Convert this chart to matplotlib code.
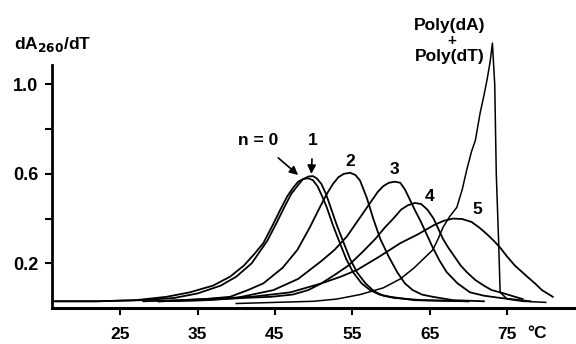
import matplotlib.pyplot as plt

# Melting curves (dA260/dT vs temperature)
n0_T = [16.2, 22, 27, 31, 34, 37, 39.2, 41, 42.3, 43.5, 44.7, 45.7, 46.6, 47.4, 48.0, 48.7, 49.3, 49.9, 50.5, 51.1, 51.7, 52.5, 53.4, 54.2, 55.1, 56.2, 57.3, 58.5, 59.9, 63, 70]
n0_y = [0.03, 0.03, 0.035, 0.05, 0.07, 0.10, 0.14, 0.19, 0.24, 0.29, 0.37, 0.44, 0.50, 0.54, 0.565, 0.578, 0.58, 0.572, 0.545, 0.50, 0.45, 0.37, 0.29, 0.22, 0.16, 0.11, 0.08, 0.06, 0.05, 0.035, 0.03]

n1_T = [16.2, 22, 28, 32, 35, 38, 40, 42, 43, 44, 45.2, 46.2, 47.1, 48, 48.6, 49.3, 49.9, 50.4, 51.0, 51.6, 52.2, 53.0, 53.9, 54.7, 55.6, 56.7, 57.8, 59, 60.4, 64, 70]
n1_y = [0.03, 0.03, 0.035, 0.045, 0.065, 0.10, 0.14, 0.20, 0.25, 0.30, 0.38, 0.45, 0.51, 0.55, 0.575, 0.588, 0.59, 0.58, 0.555, 0.51, 0.45, 0.37, 0.29, 0.22, 0.16, 0.11, 0.075, 0.055, 0.045, 0.035, 0.03]

n2_T = [28, 33, 36, 39.2, 41.5, 43.5, 46, 47.9, 49.5, 50.8, 51.7, 52.5, 53.2, 53.9, 54.7, 55.4, 56.0, 56.9, 57.7, 58.6, 59.7, 60.8, 61.8, 62.8, 64, 65.4, 68, 72]
n2_y = [0.03, 0.035, 0.04, 0.05, 0.08, 0.11, 0.18, 0.26, 0.36, 0.45, 0.51, 0.555, 0.585, 0.60, 0.605, 0.595, 0.57, 0.49, 0.40, 0.31, 0.23, 0.16, 0.11, 0.08, 0.06, 0.05, 0.035, 0.03]

n3_T = [30, 36, 40, 44.8, 48, 51, 52.7, 54.3, 55.5, 56.5, 57.5, 58.3, 59.0, 59.7, 60.5, 61.2, 61.8, 62.5, 63.2, 63.8, 64.6, 65.4, 66.3, 67.2, 68.6, 70.2, 72, 74.1, 78]
n3_y = [0.03, 0.035, 0.045, 0.08, 0.13, 0.21, 0.26, 0.32, 0.38, 0.43, 0.48, 0.52, 0.545, 0.56, 0.565, 0.56, 0.53, 0.48, 0.43, 0.39, 0.33, 0.27, 0.21, 0.16, 0.11, 0.07, 0.055, 0.045, 0.03]

n4_T = [30, 36, 41, 44.5, 47.3, 49.3, 51, 52.8, 54.5, 56.3, 58, 59.2, 60.3, 61.3, 62.2, 63.1, 63.9, 64.7, 65.5, 66.1, 66.7, 67.4, 68.2, 69.0, 69.8, 70.9, 72, 73, 74.1, 77]
n4_y = [0.03, 0.035, 0.045, 0.05, 0.06, 0.08, 0.11, 0.15, 0.19, 0.25, 0.31, 0.36, 0.40, 0.44, 0.46, 0.47, 0.465, 0.44, 0.40, 0.355, 0.31, 0.27, 0.23, 0.19, 0.16, 0.125, 0.10, 0.08, 0.07, 0.04]

n5_T = [30, 36, 42, 47, 51, 53.5, 55.6, 58.5, 61.2, 63.5, 65.5, 66.8, 68, 69.2, 70.4, 71.4, 72.4, 73.3, 74.1, 75, 76, 76.8, 77.6, 78.6, 79.5, 80.9]
n5_y = [0.03, 0.04, 0.05, 0.07, 0.11, 0.14, 0.17, 0.23, 0.29, 0.33, 0.37, 0.39, 0.40, 0.398, 0.385, 0.36, 0.33, 0.30, 0.27, 0.23, 0.19, 0.165, 0.14, 0.11, 0.08, 0.05]

poly_T = [40, 45, 50, 53, 56, 59, 61.2, 63, 64.5, 65.4, 66.1, 66.7, 67.6, 68.5, 69.2, 69.8, 70.4, 70.9, 71.5, 72.0, 72.4, 72.8, 73.1, 73.4, 73.6, 73.9, 74.1, 75, 77, 80]
poly_y = [0.02, 0.025, 0.03, 0.04, 0.06, 0.09, 0.13, 0.18, 0.23, 0.26, 0.31, 0.36, 0.41, 0.45, 0.53, 0.62, 0.70, 0.75, 0.87, 0.95, 1.02, 1.10, 1.185, 1.0, 0.6, 0.3, 0.07, 0.04, 0.03, 0.025]

x_ticks = [25, 35, 45, 55, 65, 75]
y_ticks = [0.2, 0.4, 0.6, 0.8, 1.0]
y_labels = ["0.2", "", "0.6", "", "1.0"]

plt.rcParams["font.family"] = "Liberation Sans"
plt.rcParams["font.weight"] = "bold"

fig = plt.figure(figsize=(5.76, 3.44), dpi=100)
ax = fig.add_axes([0.0903, 0.1047, 0.9097, 0.7063])

for T, y in [(n0_T, n0_y), (n1_T, n1_y), (n2_T, n2_y), (n3_T, n3_y), (n4_T, n4_y), (n5_T, n5_y)]:
    ax.plot(T, y, color="black", lw=1.3)
ax.plot(poly_T, poly_y, color="black", lw=1.1, clip_on=False)

ax.set_xlim(16.2, 83.9)
ax.set_ylim(0, 1.087)

# axes look
for side in ["top", "right"]:
    ax.spines[side].set_visible(False)
ax.spines["left"].set_linewidth(2)
ax.spines["bottom"].set_linewidth(2.2)

ax.set_xticks(x_ticks)
ax.set_xticklabels([str(t) for t in x_ticks], fontsize=12.5, fontweight="bold")
ax.set_yticks(y_ticks)
ax.set_yticklabels(y_labels, fontsize=13, fontweight="bold")
ax.tick_params(axis="x", length=5, width=1.5, pad=9)
ax.tick_params(axis="y", length=5, width=1.5, pad=5)

# annotations
fig.text(537 / 576, 1 - 333 / 344, "°C", fontsize=12.5, fontweight="bold", ha="center", va="center")
fig.text(0.092, 0.87, r"dA$_{\mathbf{260}}$/dT", fontsize=12.5, fontweight="bold", ha="center", va="center")

ax.annotate("n = 0", xy=(48.0, 0.595), xytext=(42.8, 0.75), fontsize=12.5, fontweight="bold",
            ha="center", va="center",
            arrowprops=dict(arrowstyle="-|>", color="black", lw=1.2, shrinkA=8, shrinkB=0))
ax.annotate("1", xy=(49.7, 0.6), xytext=(49.9, 0.75), fontsize=12.5, fontweight="bold",
            ha="center", va="center",
            arrowprops=dict(arrowstyle="-|>", color="black", lw=1.2, shrinkA=6, shrinkB=0))
ax.text(54.7, 0.655, "2", fontsize=12.5, fontweight="bold", ha="center", va="center")
ax.text(60.5, 0.62, "3", fontsize=12.5, fontweight="bold", ha="center", va="center")
ax.text(65.0, 0.50, "4", fontsize=12.5, fontweight="bold", ha="center", va="center")
ax.text(71.1, 0.44, "5", fontsize=12.5, fontweight="bold", ha="center", va="center")

ax.text(67.6, 1.265, "Poly(dA)", fontsize=12.5, fontweight="bold", ha="center", va="center")
ax.text(67.8, 1.195, "+", fontsize=11, fontweight="bold", ha="center", va="center")
ax.text(67.6, 1.125, "Poly(dT)", fontsize=12.5, fontweight="bold", ha="center", va="center")

plt.savefig("out.png")
